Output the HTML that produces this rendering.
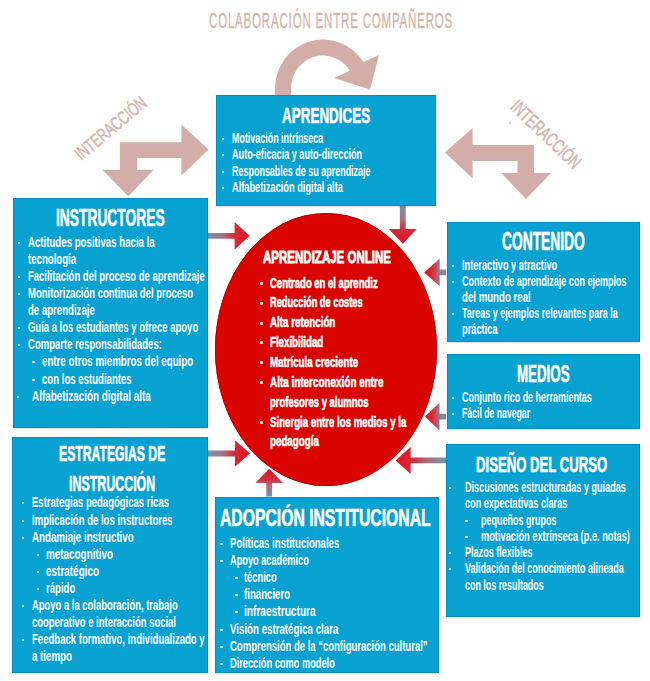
<!DOCTYPE html><html><head><meta charset="utf-8"><style>
*{margin:0;padding:0}
html,body{width:650px;height:681px;background:#fff;overflow:hidden}
body{position:relative;font-family:"Liberation Sans",sans-serif}
.t{position:absolute;white-space:nowrap;transform-origin:0 0;font-weight:normal}
.b{font-weight:bold}
.d{position:absolute;border-radius:50%}
.bx{position:absolute;background:#07a1d2;box-shadow:inset 0 0 0 1px #088cba,0 1px 1.5px rgba(0,0,0,0.15)}
.ov{position:absolute;left:214.7px;top:213px;width:222.6px;height:272.5px;border-radius:50%;background:#d90300;box-shadow:inset 0 0 0 0.8px #b30000}
.sv{position:absolute;left:0;top:0}
</style></head><body><svg class="sv" width="650" height="681" viewBox="0 0 650 681"><path d="M275 95 L275 88 A48 49 0 0 1 363.4 62.1 L379.0 55.0 L370.0 89.5 L334.0 78.0 L349.9 70.7 A32 33 0 0 0 291 88 L291 95 Z" fill="#d3aea8"/><path d="M119.9 142.3 L181.4 142.3 L181.4 124.6 L208.5 149.6 L181.4 175.5 L181.4 158 L137.1 158 L137.1 169.8 L153.7 169.8 L128.2 196.2 L102.4 169.8 L119.9 169.8 Z" fill="#d3aea8"/><path d="M534 145 L472.6 145 L472.6 128 L445 152.6 L472.6 178.6 L472.6 161 L517.4 161 L517.4 173 L501 173 L526 199 L551 173 L534 173 Z" fill="#d3aea8"/><linearGradient id="g3" gradientUnits="userSpaceOnUse" x1="208.0" y1="235.8" x2="249.6" y2="235.8"><stop offset="0" stop-color="#6a96b4"/><stop offset="0.35" stop-color="#a8727e"/><stop offset="0.65" stop-color="#d42a3a"/><stop offset="1" stop-color="#e8101e"/></linearGradient><path d="M208.0 238.7 L234.6 238.7 L234.6 249.7 L249.6 235.8 L234.6 221.9 L234.6 232.9 L208.0 232.9 Z" fill="url(#g3)"/><linearGradient id="g5" gradientUnits="userSpaceOnUse" x1="402.8" y1="205.5" x2="402.8" y2="243.7"><stop offset="0" stop-color="#6a96b4"/><stop offset="0.35" stop-color="#a8727e"/><stop offset="0.65" stop-color="#d42a3a"/><stop offset="1" stop-color="#e8101e"/></linearGradient><path d="M399.9 205.5 L399.9 229.0 L388.8 229.0 L402.8 243.7 L416.8 229.0 L405.7 229.0 L405.7 205.5 Z" fill="url(#g5)"/><linearGradient id="g7" gradientUnits="userSpaceOnUse" x1="446.2" y1="272.4" x2="424.2" y2="272.4"><stop offset="0" stop-color="#6a96b4"/><stop offset="0.35" stop-color="#a8727e"/><stop offset="0.65" stop-color="#d42a3a"/><stop offset="1" stop-color="#e8101e"/></linearGradient><path d="M446.2 269.5 L439.7 269.5 L439.7 258.5 L424.2 272.4 L439.7 286.3 L439.7 275.3 L446.2 275.3 Z" fill="url(#g7)"/><linearGradient id="g9" gradientUnits="userSpaceOnUse" x1="446.1" y1="416.6" x2="425.0" y2="416.6"><stop offset="0" stop-color="#6a96b4"/><stop offset="0.35" stop-color="#a8727e"/><stop offset="0.65" stop-color="#d42a3a"/><stop offset="1" stop-color="#e8101e"/></linearGradient><path d="M446.1 413.7 L439.5 413.7 L439.5 402.7 L425.0 416.6 L439.5 430.5 L439.5 419.5 L446.1 419.5 Z" fill="url(#g9)"/><linearGradient id="g11" gradientUnits="userSpaceOnUse" x1="446.0" y1="460.4" x2="395.6" y2="460.4"><stop offset="0" stop-color="#6a96b4"/><stop offset="0.35" stop-color="#a8727e"/><stop offset="0.65" stop-color="#d42a3a"/><stop offset="1" stop-color="#e8101e"/></linearGradient><path d="M446.0 457.5 L410.7 457.5 L410.7 446.8 L395.6 460.4 L410.7 474.0 L410.7 463.3 L446.0 463.3 Z" fill="url(#g11)"/><linearGradient id="g13" gradientUnits="userSpaceOnUse" x1="207.4" y1="453.5" x2="250.0" y2="453.5"><stop offset="0" stop-color="#6a96b4"/><stop offset="0.35" stop-color="#a8727e"/><stop offset="0.65" stop-color="#d42a3a"/><stop offset="1" stop-color="#e8101e"/></linearGradient><path d="M207.4 456.4 L235.0 456.4 L235.0 466.8 L250.0 453.5 L235.0 440.2 L235.0 450.6 L207.4 450.6 Z" fill="url(#g13)"/><linearGradient id="g15" gradientUnits="userSpaceOnUse" x1="269.2" y1="496.5" x2="269.2" y2="468.8"><stop offset="0" stop-color="#6a96b4"/><stop offset="0.35" stop-color="#a8727e"/><stop offset="0.65" stop-color="#d42a3a"/><stop offset="1" stop-color="#e8101e"/></linearGradient><path d="M272.1 496.5 L272.1 483.0 L283.0 483.0 L269.2 468.8 L255.4 483.0 L266.3 483.0 L266.3 496.5 Z" fill="url(#g15)"/></svg>
<div class="bx" style="left:216.0px;top:95.0px;width:220.0px;height:110.5px"></div>
<div class="bx" style="left:12.5px;top:198.0px;width:195.5px;height:230.3px"></div>
<div class="bx" style="left:446.5px;top:222.0px;width:193.8px;height:119.8px"></div>
<div class="bx" style="left:447.0px;top:353.7px;width:192.7px;height:75.7px"></div>
<div class="bx" style="left:446.2px;top:444.0px;width:193.4px;height:173.2px"></div>
<div class="bx" style="left:12.0px;top:436.8px;width:195.5px;height:236.2px"></div>
<div class="bx" style="left:215.2px;top:496.5px;width:224.3px;height:176.5px"></div>
<div class="ov"></div>
<div class="t b" style="left:282.18px;top:104.00px;font-size:22.97px;line-height:22.97px;transform:scaleX(0.5860);color:#fff;-webkit-text-stroke:0.60px #fff;">APRENDICES</div>
<div class="d" style="left:222.15px;top:137.85px;width:2.30px;height:2.30px;background:#fff"></div>
<div class="t b" style="left:232.00px;top:131.00px;font-size:14.80px;line-height:14.80px;transform:scaleX(0.6029);color:#fff;">Motivación intrínseca</div>
<div class="d" style="left:222.15px;top:153.85px;width:2.30px;height:2.30px;background:#fff"></div>
<div class="t b" style="left:232.00px;top:147.00px;font-size:14.80px;line-height:14.80px;transform:scaleX(0.6160);color:#fff;">Auto-eficacia y auto-dirección</div>
<div class="d" style="left:222.15px;top:170.85px;width:2.30px;height:2.30px;background:#fff"></div>
<div class="t b" style="left:232.00px;top:164.00px;font-size:14.80px;line-height:14.80px;transform:scaleX(0.6061);color:#fff;">Responsables de su aprendizaje</div>
<div class="d" style="left:222.15px;top:186.85px;width:2.30px;height:2.30px;background:#fff"></div>
<div class="t b" style="left:232.00px;top:180.00px;font-size:14.80px;line-height:14.80px;transform:scaleX(0.6245);color:#fff;">Alfabetización digital alta</div>
<div class="t b" style="left:55.67px;top:206.00px;font-size:24.42px;line-height:24.42px;transform:scaleX(0.5653);color:#fff;-webkit-text-stroke:0.60px #fff;">INSTRUCTORES</div>
<div class="d" style="left:18.15px;top:241.85px;width:2.30px;height:2.30px;background:#fff"></div>
<div class="t b" style="left:27.80px;top:235.00px;font-size:14.80px;line-height:14.80px;transform:scaleX(0.6529);color:#fff;">Actitudes positivas hacia la</div>
<div class="t b" style="left:27.80px;top:252.00px;font-size:14.80px;line-height:14.80px;transform:scaleX(0.6504);color:#fff;">tecnología</div>
<div class="d" style="left:18.15px;top:275.85px;width:2.30px;height:2.30px;background:#fff"></div>
<div class="t b" style="left:27.80px;top:269.00px;font-size:14.80px;line-height:14.80px;transform:scaleX(0.6413);color:#fff;">Facilitación del proceso de aprendizaje</div>
<div class="d" style="left:18.15px;top:292.85px;width:2.30px;height:2.30px;background:#fff"></div>
<div class="t b" style="left:27.80px;top:286.00px;font-size:14.80px;line-height:14.80px;transform:scaleX(0.6419);color:#fff;">Monitorización continua del proceso</div>
<div class="t b" style="left:27.80px;top:303.00px;font-size:14.80px;line-height:14.80px;transform:scaleX(0.6497);color:#fff;">de aprendizaje</div>
<div class="d" style="left:18.15px;top:326.85px;width:2.30px;height:2.30px;background:#fff"></div>
<div class="t b" style="left:27.80px;top:320.00px;font-size:14.80px;line-height:14.80px;transform:scaleX(0.6407);color:#fff;">Guía a los estudiantes y ofrece apoyo</div>
<div class="d" style="left:18.15px;top:343.85px;width:2.30px;height:2.30px;background:#fff"></div>
<div class="t b" style="left:27.80px;top:337.00px;font-size:14.80px;line-height:14.80px;transform:scaleX(0.6435);color:#fff;">Comparte responsabilidades:</div>
<div class="d" style="left:32.25px;top:360.85px;width:2.30px;height:2.30px;background:#fff"></div>
<div class="t b" style="left:41.80px;top:354.00px;font-size:14.80px;line-height:14.80px;transform:scaleX(0.6567);color:#fff;">entre otros miembros del equipo</div>
<div class="d" style="left:32.25px;top:378.85px;width:2.30px;height:2.30px;background:#fff"></div>
<div class="t b" style="left:41.80px;top:372.00px;font-size:14.80px;line-height:14.80px;transform:scaleX(0.6492);color:#fff;">con los estudiantes</div>
<div class="d" style="left:16.55px;top:395.85px;width:2.30px;height:2.30px;background:#fff"></div>
<div class="t b" style="left:32.20px;top:389.00px;font-size:14.80px;line-height:14.80px;transform:scaleX(0.6684);color:#fff;">Alfabetización digital alta</div>
<div class="t b" style="left:502.06px;top:229.00px;font-size:25.29px;line-height:25.29px;transform:scaleX(0.5455);color:#fff;-webkit-text-stroke:0.60px #fff;">CONTENIDO</div>
<div class="d" style="left:451.85px;top:264.85px;width:2.30px;height:2.30px;background:#fff"></div>
<div class="t b" style="left:461.80px;top:258.00px;font-size:14.80px;line-height:14.80px;transform:scaleX(0.6223);color:#fff;">Interactivo y atractivo</div>
<div class="d" style="left:451.85px;top:280.85px;width:2.30px;height:2.30px;background:#fff"></div>
<div class="t b" style="left:461.80px;top:274.00px;font-size:14.80px;line-height:14.80px;transform:scaleX(0.6102);color:#fff;">Contexto de aprendizaje con ejemplos</div>
<div class="t b" style="left:461.80px;top:290.00px;font-size:14.80px;line-height:14.80px;transform:scaleX(0.6527);color:#fff;">del mundo real</div>
<div class="d" style="left:451.85px;top:312.85px;width:2.30px;height:2.30px;background:#fff"></div>
<div class="t b" style="left:461.80px;top:306.00px;font-size:14.80px;line-height:14.80px;transform:scaleX(0.6078);color:#fff;">Tareas y ejemplos relevantes para la</div>
<div class="t b" style="left:461.80px;top:322.00px;font-size:14.80px;line-height:14.80px;transform:scaleX(0.6278);color:#fff;">práctica</div>
<div class="t b" style="left:516.87px;top:363.00px;font-size:23.69px;line-height:23.69px;transform:scaleX(0.5624);color:#fff;-webkit-text-stroke:0.60px #fff;">MEDIOS</div>
<div class="d" style="left:451.95px;top:396.85px;width:2.30px;height:2.30px;background:#fff"></div>
<div class="t b" style="left:461.90px;top:390.00px;font-size:14.80px;line-height:14.80px;transform:scaleX(0.6048);color:#fff;">Conjunto rico de herramientas</div>
<div class="d" style="left:451.95px;top:412.85px;width:2.30px;height:2.30px;background:#fff"></div>
<div class="t b" style="left:461.90px;top:406.00px;font-size:14.80px;line-height:14.80px;transform:scaleX(0.5871);color:#fff;">Fácil de navegar</div>
<div class="t b" style="left:475.78px;top:454.00px;font-size:21.80px;line-height:21.80px;transform:scaleX(0.6030);color:#fff;-webkit-text-stroke:0.60px #fff;">DISEÑO DEL CURSO</div>
<div class="d" style="left:449.05px;top:486.85px;width:2.30px;height:2.30px;background:#fff"></div>
<div class="t b" style="left:464.70px;top:480.00px;font-size:14.80px;line-height:14.80px;transform:scaleX(0.6152);color:#fff;">Discusiones estructuradas y guiadas</div>
<div class="t b" style="left:464.70px;top:496.00px;font-size:14.80px;line-height:14.80px;transform:scaleX(0.6156);color:#fff;">con expectativas claras</div>
<div class="d" style="left:465.35px;top:519.85px;width:2.30px;height:2.30px;background:#fff"></div>
<div class="t b" style="left:481.40px;top:513.00px;font-size:14.80px;line-height:14.80px;transform:scaleX(0.6089);color:#fff;">pequeños grupos</div>
<div class="d" style="left:465.35px;top:535.85px;width:2.30px;height:2.30px;background:#fff"></div>
<div class="t b" style="left:481.40px;top:529.00px;font-size:14.80px;line-height:14.80px;transform:scaleX(0.6243);color:#fff;">motivación extrínseca (p.e. notas)</div>
<div class="d" style="left:449.05px;top:551.85px;width:2.30px;height:2.30px;background:#fff"></div>
<div class="t b" style="left:464.70px;top:545.00px;font-size:14.80px;line-height:14.80px;transform:scaleX(0.6124);color:#fff;">Plazos flexibles</div>
<div class="d" style="left:449.05px;top:567.85px;width:2.30px;height:2.30px;background:#fff"></div>
<div class="t b" style="left:464.70px;top:561.00px;font-size:14.80px;line-height:14.80px;transform:scaleX(0.6054);color:#fff;">Validación del conocimiento alineada</div>
<div class="t b" style="left:464.70px;top:578.00px;font-size:14.80px;line-height:14.80px;transform:scaleX(0.6019);color:#fff;">con los resultados</div>
<div class="t b" style="left:58.87px;top:444.00px;font-size:21.51px;line-height:21.51px;transform:scaleX(0.5680);color:#fff;-webkit-text-stroke:0.60px #fff;">ESTRATEGIAS DE</div>
<div class="t b" style="left:69.37px;top:474.00px;font-size:21.51px;line-height:21.51px;transform:scaleX(0.5774);color:#fff;-webkit-text-stroke:0.60px #fff;">INSTRUCCIÓN</div>
<div class="d" style="left:21.85px;top:501.85px;width:2.30px;height:2.30px;background:#fff"></div>
<div class="t b" style="left:32.00px;top:495.00px;font-size:14.80px;line-height:14.80px;transform:scaleX(0.6430);color:#fff;">Estrategias pedagógicas ricas</div>
<div class="d" style="left:21.85px;top:519.85px;width:2.30px;height:2.30px;background:#fff"></div>
<div class="t b" style="left:32.00px;top:513.00px;font-size:14.80px;line-height:14.80px;transform:scaleX(0.6451);color:#fff;">Implicación de los instructores</div>
<div class="d" style="left:21.85px;top:536.85px;width:2.30px;height:2.30px;background:#fff"></div>
<div class="t b" style="left:32.00px;top:530.00px;font-size:14.80px;line-height:14.80px;transform:scaleX(0.6578);color:#fff;">Andamiaje instructivo</div>
<div class="d" style="left:36.75px;top:553.85px;width:2.30px;height:2.30px;background:#fff"></div>
<div class="t b" style="left:45.70px;top:547.00px;font-size:14.80px;line-height:14.80px;transform:scaleX(0.6678);color:#fff;">metacognitivo</div>
<div class="d" style="left:36.75px;top:570.85px;width:2.30px;height:2.30px;background:#fff"></div>
<div class="t b" style="left:45.70px;top:564.00px;font-size:14.80px;line-height:14.80px;transform:scaleX(0.6725);color:#fff;">estratégico</div>
<div class="d" style="left:36.75px;top:587.85px;width:2.30px;height:2.30px;background:#fff"></div>
<div class="t b" style="left:45.70px;top:581.00px;font-size:14.80px;line-height:14.80px;transform:scaleX(0.6478);color:#fff;">rápido</div>
<div class="d" style="left:21.85px;top:604.85px;width:2.30px;height:2.30px;background:#fff"></div>
<div class="t b" style="left:32.00px;top:598.00px;font-size:14.80px;line-height:14.80px;transform:scaleX(0.6373);color:#fff;">Apoyo a la colaboración, trabajo</div>
<div class="t b" style="left:32.00px;top:615.00px;font-size:14.80px;line-height:14.80px;transform:scaleX(0.6389);color:#fff;">cooperativo e interacción social</div>
<div class="d" style="left:21.85px;top:638.85px;width:2.30px;height:2.30px;background:#fff"></div>
<div class="t b" style="left:32.00px;top:632.00px;font-size:14.80px;line-height:14.80px;transform:scaleX(0.6461);color:#fff;">Feedback formativo, individualizado y</div>
<div class="t b" style="left:32.00px;top:649.00px;font-size:14.80px;line-height:14.80px;transform:scaleX(0.6573);color:#fff;">a tiempo</div>
<div class="t b" style="left:220.40px;top:507.00px;font-size:23.40px;line-height:23.40px;transform:scaleX(0.6725);color:#fff;-webkit-text-stroke:0.60px #fff;">ADOPCIÓN INSTITUCIONAL</div>
<div class="d" style="left:220.45px;top:542.85px;width:2.30px;height:2.30px;background:#fff"></div>
<div class="t b" style="left:229.90px;top:536.00px;font-size:14.80px;line-height:14.80px;transform:scaleX(0.6483);color:#fff;">Políticas institucionales</div>
<div class="d" style="left:220.45px;top:559.85px;width:2.30px;height:2.30px;background:#fff"></div>
<div class="t b" style="left:229.90px;top:553.00px;font-size:14.80px;line-height:14.80px;transform:scaleX(0.6229);color:#fff;">Apoyo académico</div>
<div class="d" style="left:235.35px;top:576.85px;width:2.30px;height:2.30px;background:#fff"></div>
<div class="t b" style="left:244.20px;top:570.00px;font-size:14.80px;line-height:14.80px;transform:scaleX(0.6330);color:#fff;">técnico</div>
<div class="d" style="left:235.35px;top:593.85px;width:2.30px;height:2.30px;background:#fff"></div>
<div class="t b" style="left:244.20px;top:587.00px;font-size:14.80px;line-height:14.80px;transform:scaleX(0.6518);color:#fff;">financiero</div>
<div class="d" style="left:235.35px;top:610.85px;width:2.30px;height:2.30px;background:#fff"></div>
<div class="t b" style="left:244.20px;top:604.00px;font-size:14.80px;line-height:14.80px;transform:scaleX(0.6867);color:#fff;">infraestructura</div>
<div class="d" style="left:220.45px;top:628.85px;width:2.30px;height:2.30px;background:#fff"></div>
<div class="t b" style="left:229.90px;top:622.00px;font-size:14.80px;line-height:14.80px;transform:scaleX(0.6562);color:#fff;">Visión estratégica clara</div>
<div class="d" style="left:220.45px;top:645.85px;width:2.30px;height:2.30px;background:#fff"></div>
<div class="t b" style="left:229.90px;top:639.00px;font-size:14.80px;line-height:14.80px;transform:scaleX(0.6425);color:#fff;">Comprensión de la “configuración cultural”</div>
<div class="d" style="left:220.45px;top:662.85px;width:2.30px;height:2.30px;background:#fff"></div>
<div class="t b" style="left:229.90px;top:656.00px;font-size:14.80px;line-height:14.80px;transform:scaleX(0.6247);color:#fff;">Dirección como modelo</div>
<div class="t b" style="left:263.10px;top:249.00px;font-size:17.15px;line-height:17.15px;transform:scaleX(0.6721);color:#fff;-webkit-text-stroke:0.90px #fff;">APRENDIZAJE ONLINE</div>
<div class="d" style="left:260.05px;top:282.25px;width:2.70px;height:2.70px;background:#fff"></div>
<div class="t b" style="left:270.19px;top:275.00px;font-size:15.03px;line-height:15.03px;transform:scaleX(0.6324);color:#fff;-webkit-text-stroke:0.60px #fff;">Centrado en el aprendiz</div>
<div class="d" style="left:260.05px;top:302.25px;width:2.70px;height:2.70px;background:#fff"></div>
<div class="t b" style="left:270.18px;top:294.00px;font-size:15.03px;line-height:15.03px;transform:scaleX(0.6162);color:#fff;-webkit-text-stroke:0.60px #fff;">Reducción de costes</div>
<div class="d" style="left:260.05px;top:322.25px;width:2.70px;height:2.70px;background:#fff"></div>
<div class="t b" style="left:270.20px;top:314.00px;font-size:15.03px;line-height:15.03px;transform:scaleX(0.6527);color:#fff;-webkit-text-stroke:0.60px #fff;">Alta retención</div>
<div class="d" style="left:260.05px;top:341.25px;width:2.70px;height:2.70px;background:#fff"></div>
<div class="t b" style="left:270.19px;top:334.00px;font-size:15.03px;line-height:15.03px;transform:scaleX(0.6449);color:#fff;-webkit-text-stroke:0.60px #fff;">Flexibilidad</div>
<div class="d" style="left:260.05px;top:361.25px;width:2.70px;height:2.70px;background:#fff"></div>
<div class="t b" style="left:270.19px;top:354.00px;font-size:15.03px;line-height:15.03px;transform:scaleX(0.6472);color:#fff;-webkit-text-stroke:0.60px #fff;">Matrícula creciente</div>
<div class="d" style="left:260.05px;top:381.25px;width:2.70px;height:2.70px;background:#fff"></div>
<div class="t b" style="left:270.20px;top:374.00px;font-size:15.03px;line-height:15.03px;transform:scaleX(0.6598);color:#fff;-webkit-text-stroke:0.60px #fff;">Alta interconexión entre</div>
<div class="t b" style="left:270.19px;top:394.00px;font-size:15.03px;line-height:15.03px;transform:scaleX(0.6315);color:#fff;-webkit-text-stroke:0.60px #fff;">profesores y alumnos</div>
<div class="d" style="left:260.05px;top:421.25px;width:2.70px;height:2.70px;background:#fff"></div>
<div class="t b" style="left:270.19px;top:414.00px;font-size:15.03px;line-height:15.03px;transform:scaleX(0.6432);color:#fff;-webkit-text-stroke:0.60px #fff;">Sinergia entre los medios y la</div>
<div class="t b" style="left:270.20px;top:433.00px;font-size:15.03px;line-height:15.03px;transform:scaleX(0.6500);color:#fff;-webkit-text-stroke:0.60px #fff;">pedagogía</div>
<div class="t" style="left:209.09px;top:9.00px;font-size:22.75px;line-height:22.75px;transform:scaleX(0.5063);color:#d4b3ad;letter-spacing:1.60px;-webkit-text-stroke:0.35px #d4b3ad;">COLABORACIÓN ENTRE COMPAÑEROS</div>
<div class="t" style="left:81.72px;top:146.39px;font-size:18.53px;line-height:18.53px;transform-origin:-0.23px 15.91px;transform:rotate(-40.04deg) scaleX(0.6831);color:#d4b3ad;-webkit-text-stroke:0.45px #d4b3ad">INTERACCIÓN</div>
<div class="d" style="left:508.70px;top:121.60px;width:2.00px;height:2.00px;background:#c4c0c0"></div>
<div class="t" style="left:508.73px;top:91.85px;font-size:19.40px;line-height:19.40px;transform-origin:-0.23px 16.65px;transform:rotate(43.78deg) scaleX(0.6660);color:#d4b3ad;-webkit-text-stroke:0.45px #d4b3ad">INTERACCIÓN</div>
</body></html>
